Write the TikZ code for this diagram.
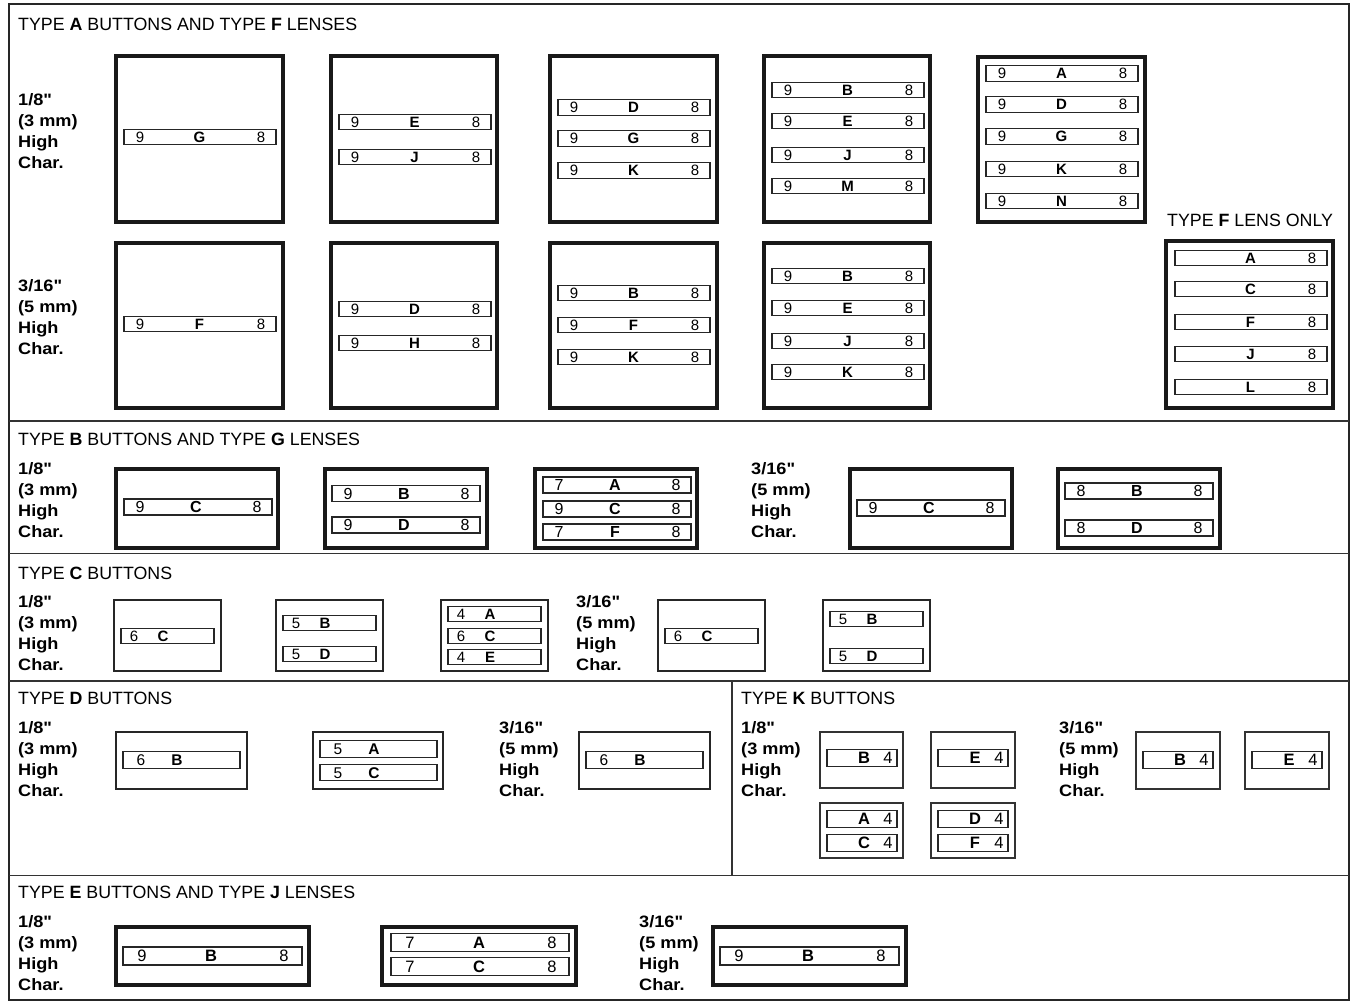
\documentclass[tikz,border=0pt]{standalone}
\usepackage{fontspec}
\setmainfont{Liberation Sans}
\newfontfamily\lblfont[FakeStretch=1.1]{Liberation Sans}
\def\stW{152}\def\stH{15.5}\def\stL{16}\def\stC{75.5}\def\stR{137}\def\stZ{15}
\newcommand\strp[6]{%
  \draw[stripline] (#2,#3-\stH/2) rectangle ++(\stW,\stH);
  \node[dig] (#1l) at (#2+\stL,#3+0.36*\stZ) {#4};
  \node[ltr] (#1c) at (#2+\stC,#3+0.36*\stZ) {#5};
  \node[dig] (#1r) at (#2+\stR,#3+0.36*\stZ) {#6};}
\newcommand\lab[5]{\node[lbl] (#1) at (#2,#3) {#4\char34\\(#5)\\High\\Char.};}
\begin{document}
\begin{tikzpicture}[x=1pt,y=-1pt,
  outer/.style={draw=black!85,line width=1.4pt},
  divline/.style={draw=black!80,line width=1.3pt},
  bigbox/.style={draw=black!90,line width=3.4pt},
  midbox/.style={draw=black!85,line width=2.4pt},
  kbox/.style={draw=black!80,line width=1.8pt},
  stripline/.style={draw=black!85,line width=1.4pt},
  dig/.style={anchor=base,inner sep=0pt,font=\fontsize{\stZ}{\stZ}\selectfont},
  ltr/.style={anchor=base,inner sep=0pt,font=\fontsize{\stZ}{\stZ}\selectfont\bfseries},
  ttl/.style={anchor=base west,inner sep=0pt,font=\fontsize{17.8}{20}\selectfont},
  lbl/.style={anchor=north west,inner sep=0pt,align=left,font=\lblfont\fontsize{16.5}{21}\selectfont\bfseries}]
\useasboundingbox (0,0) rectangle (1356,1004);
% frame and dividers
\draw[outer] (9,4) rectangle (1349,1000);
\draw[divline] (9,421) -- (1349,421);
\draw[divline] (9,553.5) -- (1349,553.5);
\draw[divline] (9,681) -- (1349,681);
\draw[divline] (9,875.5) -- (1349,875.5);
\draw[divline] (732,681) -- (732,875.5);
% titles
\node[ttl] (tA) at (18,30) {TYPE \textbf{A} BUTTONS AND TYPE \textbf{F} LENSES};
\node[ttl] (tF) at (1167,226) {TYPE \textbf{F} LENS ONLY};
\node[ttl] (tB) at (18,445) {TYPE \textbf{B} BUTTONS AND TYPE \textbf{G} LENSES};
\node[ttl] (tC) at (18,579) {TYPE \textbf{C} BUTTONS};
\node[ttl] (tD) at (18,704) {TYPE \textbf{D} BUTTONS};
\node[ttl] (tK) at (741,704) {TYPE \textbf{K} BUTTONS};
\node[ttl] (tE) at (18,898) {TYPE \textbf{E} BUTTONS AND TYPE \textbf{J} LENSES};
% labels
\lab{la1}{18}{93}{1/8}{3 mm}
\lab{la2}{18}{279}{3/16}{5 mm}
\lab{lb1}{18}{462}{1/8}{3 mm}
\lab{lb2}{751}{462}{3/16}{5 mm}
\lab{lc1}{18}{595}{1/8}{3 mm}
\lab{lc2}{576}{595}{3/16}{5 mm}
\lab{ld1}{18}{721}{1/8}{3 mm}
\lab{ld2}{499}{721}{3/16}{5 mm}
\lab{lk1}{741}{721}{1/8}{3 mm}
\lab{lk2}{1059}{721}{3/16}{5 mm}
\lab{le1}{18}{915}{1/8}{3 mm}
\lab{le2}{639}{915}{3/16}{5 mm}
% ---------- section A ----------
\draw[bigbox] (116,56) rectangle (283,222);
\draw[bigbox] (331,56) rectangle (497,222);
\draw[bigbox] (550,56) rectangle (717,222);
\draw[bigbox] (764,56) rectangle (930,222);
\draw[bigbox] (978,57) rectangle (1145,222);
\draw[bigbox] (116,243) rectangle (283,408);
\draw[bigbox] (331,243) rectangle (497,408);
\draw[bigbox] (550,243) rectangle (717,408);
\draw[bigbox] (764,243) rectangle (930,408);
\draw[bigbox] (1166,241) rectangle (1333,408);
\strp{a11}{124}{137}{9}{G}{8}
\strp{a21}{339}{122}{9}{E}{8}
\strp{a22}{339}{157}{9}{J}{8}
\strp{a31}{558}{107.5}{9}{D}{8}
\strp{a32}{558}{138.5}{9}{G}{8}
\strp{a33}{558}{170.5}{9}{K}{8}
\strp{a41}{772}{90}{9}{B}{8}
\strp{a42}{772}{121}{9}{E}{8}
\strp{a43}{772}{155}{9}{J}{8}
\strp{a44}{772}{186}{9}{M}{8}
\strp{a51}{986}{73.5}{9}{A}{8}
\strp{a52}{986}{104.5}{9}{D}{8}
\strp{a53}{986}{136.5}{9}{G}{8}
\strp{a54}{986}{169}{9}{K}{8}
\strp{a55}{986}{201}{9}{N}{8}
\strp{b11}{124}{324}{9}{F}{8}
\strp{b21}{339}{309}{9}{D}{8}
\strp{b22}{339}{343}{9}{H}{8}
\strp{b31}{558}{293}{9}{B}{8}
\strp{b32}{558}{325}{9}{F}{8}
\strp{b33}{558}{357}{9}{K}{8}
\strp{b41}{772}{276}{9}{B}{8}
\strp{b42}{772}{308}{9}{E}{8}
\strp{b43}{772}{341}{9}{J}{8}
\strp{b44}{772}{372}{9}{K}{8}
\strp{f1}{1175}{258}{}{A}{8}
\strp{f2}{1175}{289}{}{C}{8}
\strp{f3}{1175}{322}{}{F}{8}
\strp{f4}{1175}{354}{}{J}{8}
\strp{f5}{1175}{387}{}{L}{8}
% ---------- section B ----------
\def\stW{148}\def\stH{16}\def\stL{16}\def\stC{72}\def\stR{133}\def\stZ{16}
\draw[bigbox] (116,469) rectangle (278,548);
\draw[bigbox] (325,469) rectangle (487,548);
\draw[bigbox] (535,469) rectangle (697,548);
\draw[bigbox] (850,469) rectangle (1012,548);
\draw[bigbox] (1058,469) rectangle (1220,548);
\strp{g11}{124}{507}{9}{C}{8}
\strp{g21}{332}{493.5}{9}{B}{8}
\strp{g22}{332}{525}{9}{D}{8}
\strp{g31}{543}{485}{7}{A}{8}
\strp{g32}{543}{509}{9}{C}{8}
\strp{g33}{543}{532}{7}{F}{8}
\strp{g41}{857}{508}{9}{C}{8}
\strp{g51}{1065}{491}{8}{B}{8}
\strp{g52}{1065}{528}{8}{D}{8}
% ---------- section C ----------
\def\stW{93}\def\stH{15}\def\stL{13}\def\stC{42}\def\stR{80}\def\stZ{15}
\draw[midbox] (114,600) rectangle (221,671);
\draw[midbox] (276,600) rectangle (383,671);
\draw[midbox] (441,600) rectangle (548,671);
\draw[midbox] (658,600) rectangle (765,671);
\draw[midbox] (823,600) rectangle (930,671);
\strp{c11}{121}{636}{6}{C}{}
\strp{c21}{283}{623}{5}{B}{}
\strp{c22}{283}{654}{5}{D}{}
\strp{c31}{448}{614}{4}{A}{}
\strp{c32}{448}{636}{6}{C}{}
\strp{c33}{448}{657}{4}{E}{}
\strp{c41}{665}{636}{6}{C}{}
\strp{c51}{830}{619}{5}{B}{}
\strp{c52}{830}{656}{5}{D}{}
% ---------- section D ----------
\def\stW{117}\def\stH{16.5}\def\stL{18}\def\stC{54}\def\stR{100}\def\stZ{15.5}
\draw[midbox] (116,732) rectangle (247,789);
\draw[midbox] (313,732) rectangle (443,789);
\draw[midbox] (579,732) rectangle (710,789);
\strp{d11}{123}{760}{6}{B}{}
\strp{d21}{320}{749}{5}{A}{}
\strp{d22}{320}{772.5}{5}{C}{}
\strp{d31}{586}{760}{6}{B}{}
% ---------- section K ----------
\def\stW{70}\def\stH{17}\def\stL{10}\def\stC{37}\def\stR{61}\def\stZ{16.5}
\draw[kbox] (820,732) rectangle (903,788);
\draw[kbox] (931,732) rectangle (1015,788);
\draw[kbox] (820,803) rectangle (903,858);
\draw[kbox] (931,803) rectangle (1015,858);
\draw[kbox] (1136,732) rectangle (1220,789);
\draw[kbox] (1245,732) rectangle (1329,789);
\strp{k11}{827}{758}{}{B}{4}
\strp{k21}{938}{758}{}{E}{4}
\strp{k31}{827}{819}{}{A}{4}
\strp{k32}{827}{843}{}{C}{4}
\strp{k41}{938}{819}{}{D}{4}
\strp{k42}{938}{843}{}{F}{4}
\strp{k51}{1143}{760}{}{B}{4}
\strp{k61}{1252}{760}{}{E}{4}
% ---------- section E ----------
\def\stW{179}\def\stH{18}\def\stL{19}\def\stC{88}\def\stR{161}\def\stZ{16.5}
\draw[bigbox] (116,927) rectangle (309,985);
\draw[bigbox] (382,927) rectangle (576,985);
\draw[bigbox] (713,927) rectangle (906,985);
\strp{e11}{123}{956}{9}{B}{8}
\strp{e31}{720}{956}{9}{B}{8}
\def\stW{178}\def\stH{17.5}
\strp{e21}{391}{942.5}{7}{A}{8}
\strp{e22}{391}{966.5}{7}{C}{8}
\end{tikzpicture}
\end{document}
